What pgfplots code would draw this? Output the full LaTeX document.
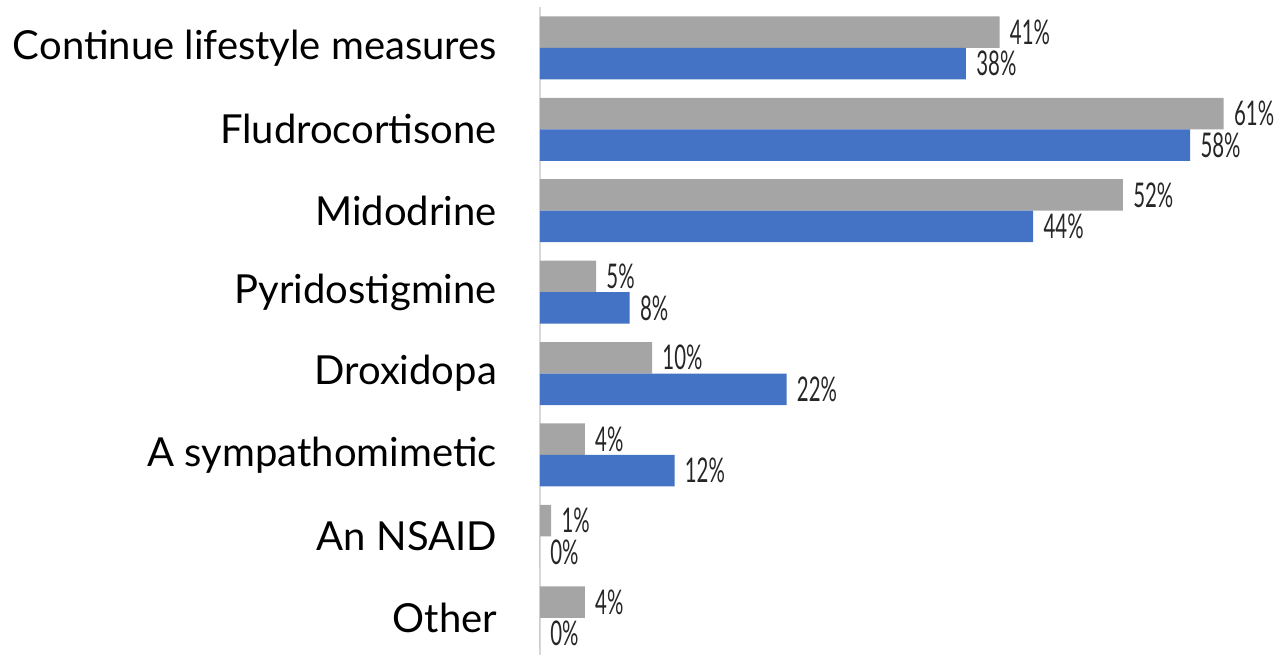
\documentclass[border=0pt]{standalone}
\usepackage{pgfplots}
\pgfplotsset{compat=1.18}
\usepackage{fontspec}
\setmainfont{Lato}
\newfontfamily\numfont[FakeStretch=0.6]{Lato}
\definecolor{cgray}{HTML}{A5A5A5}
\definecolor{cblue}{HTML}{4472C4}
\definecolor{caxis}{HTML}{D9D9D9}
\begin{document}
\begin{tikzpicture}
\begin{axis}[
  scale only axis,
  width=369.9pt, height=324pt,
  xbar, bar width=15.75pt,
  xmin=0, xmax=66,
  ymin=-0.5, ymax=7.46,
  y dir=reverse,
  clip=false,
  hide x axis,
  axis y line*=left,
  y axis line style={draw=caxis, line width=0.8pt, -},
  ytick={0,1,2,3,4,5,6,7},
  yticklabels={Continue lifestyle measures, Fludrocortisone, Midodrine, Pyridostigmine, Droxidopa, A sympathomimetic\hspace{0.3em}, An NSAID\hspace{0.3em}, Other},
  major tick length=0pt,
  yticklabel style={font=\fontsize{20}{22}\selectfont, anchor=east, xshift=-18pt, text=black},
  nodes near coords={\pgfmathprintnumber[assume math mode=true]{\pgfplotspointmeta}\%},
  nodes near coords style={font=\numfont\fontsize{17}{19}\selectfont, text=black!85, anchor=west, inner sep=0pt, xshift=5pt},
  point meta=x,
]
\addplot[draw=none, fill=cgray, bar shift=7.875pt] coordinates {(41,0) (61,1) (52,2) (5,3) (10,4) (4,5) (1,6) (4,7)};
\addplot[draw=none, fill=cblue, bar shift=-7.875pt] coordinates {(38,0) (58,1) (44,2) (8,3) (22,4) (12,5) (0,6) (0,7)};
\end{axis}
\path[use as bounding box] (-270pt,-0.25pt) rectangle (374pt,327.6pt);
\end{tikzpicture}
\end{document}
